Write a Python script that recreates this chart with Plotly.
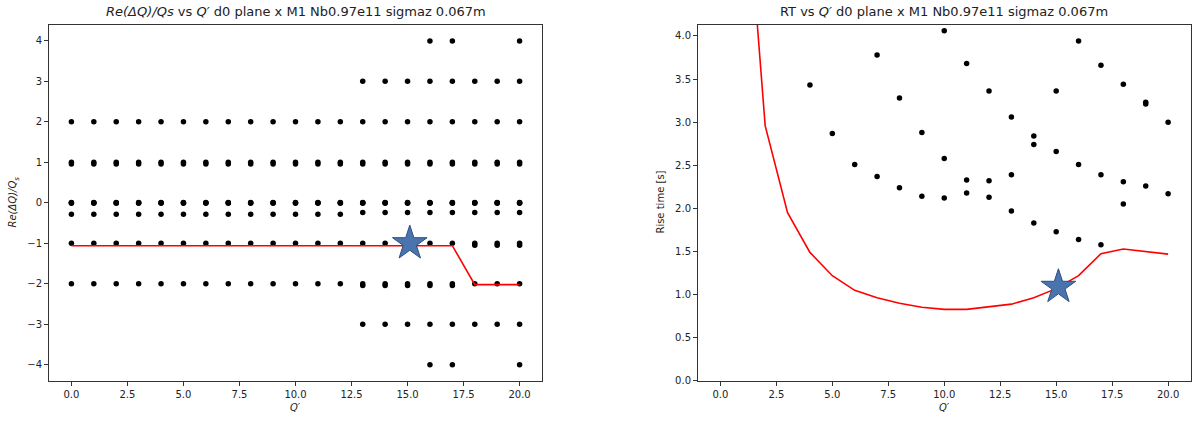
import plotly.graph_objects as go

# ---------------- data: left panel, Re(dQ)/Qs per mode level ----------------
qp_all = list(range(0, 21))
qp_high = list(range(13, 21))
qp_at_4 = [16, 17, 20]
qp_at_m4 = [16, 17, 20]
qp_at_m3 = list(range(13, 21))

lvl_4 = 4.0
lvl_3 = 3.0
lvl_2 = 2.0
lvl_1 = [1.0, 0.96]
lvl_0 = [0.01, 0.0, -0.01]
lvl_small_low = -0.28   # Q' 0..12
lvl_small_high = -0.24  # Q' 13..20
lvl_m1 = -1.0
lvl_m1_extra = -1.05    # Q' 18..20
qp_m1_extra = [18, 19, 20]
lvl_m2 = -2.0
lvl_m2_extra = -2.04    # Q' 13..17
qp_m2_extra = [13, 14, 15, 16, 17]
lvl_m3 = -3.0
lvl_m4 = -4.0

# most unstable mode (red line)
line_q = list(range(0, 21))
line_re = [-1.06] * 18 + [-2.02, -2.02, -2.02]

# ---------------- data: right panel, rise times ----------------
rt_q = [4, 5, 6, 7, 7, 8, 8, 9, 9, 10, 10, 10, 11, 11, 11, 12, 12, 12,
        13, 13, 13, 14, 14, 14, 15, 15, 15, 16, 16, 16, 17, 17, 17,
        18, 18, 18, 19, 19, 19, 20, 20]
rt_val = [3.43, 2.87, 2.51, 3.78, 2.37, 3.28, 2.24, 2.88, 2.14,
          4.06, 2.58, 2.12, 3.68, 2.33, 2.18, 3.36, 2.32, 2.13,
          3.06, 2.39, 1.97, 2.84, 2.74, 1.83, 3.36, 2.66, 1.73,
          3.94, 2.51, 1.64, 3.66, 2.39, 1.58, 3.44, 2.31, 2.05,
          3.23, 3.21, 2.26, 3.00, 2.17]

rt_line_q = list(range(1, 21))
rt_line = [6.3, 2.96, 1.95, 1.49, 1.22, 1.05, 0.965, 0.90, 0.855, 0.83,
           0.83, 0.86, 0.89, 0.965, 1.07, 1.22, 1.475, 1.53, 1.50, 1.47]

# chosen working point
star_q = 15.1
star_re = -1.0
star_rt = 1.09

title_suffix = " d0 plane x M1 Nb0.97e11 sigmaz 0.067m"

# ---------------- build left scatter points ----------------
lq, lv = [], []


def add(qs, v):
    for q in qs:
        lq.append(q)
        lv.append(v)


add(qp_at_4, lvl_4)
add(qp_high, lvl_3)
add(qp_all, lvl_2)
for v in lvl_1:
    add(qp_all, v)
for v in lvl_0:
    add(qp_all, v)
add([q for q in qp_all if q < 13], lvl_small_low)
add(qp_high, lvl_small_high)
add(qp_all, lvl_m1)
add(qp_m1_extra, lvl_m1_extra)
add(qp_all, lvl_m2)
add(qp_m2_extra, lvl_m2_extra)
add(qp_at_m3, lvl_m3)
add(qp_at_m4, lvl_m4)

W, H = 1192, 421
FONT = "DejaVu Sans"
TXT = "#222222"
FRAME = "#333333"
STAR_FILL = "#4a74ad"
STAR_EDGE = "#2d4f80"

fig = go.Figure()

# left panel
fig.add_trace(go.Scatter(x=lq, y=lv, mode="markers",
                         marker=dict(color="black", size=5.5),
                         xaxis="x", yaxis="y", showlegend=False))
fig.add_trace(go.Scatter(x=line_q, y=line_re, mode="lines",
                         line=dict(color="red", width=1.6),
                         xaxis="x", yaxis="y", showlegend=False))
fig.add_trace(go.Scatter(x=[star_q], y=[star_re], mode="markers",
                         marker=dict(symbol="star", size=26, color=STAR_FILL,
                                     line=dict(color=STAR_EDGE, width=1)),
                         xaxis="x", yaxis="y", showlegend=False))

# right panel
fig.add_trace(go.Scatter(x=rt_q, y=rt_val, mode="markers",
                         marker=dict(color="black", size=5.5),
                         xaxis="x2", yaxis="y2", showlegend=False))
fig.add_trace(go.Scatter(x=rt_line_q, y=rt_line, mode="lines",
                         line=dict(color="red", width=1.6),
                         xaxis="x2", yaxis="y2", showlegend=False))
fig.add_trace(go.Scatter(x=[star_q], y=[star_rt], mode="markers",
                         marker=dict(symbol="star", size=26, color=STAR_FILL,
                                     line=dict(color=STAR_EDGE, width=1)),
                         xaxis="x2", yaxis="y2", showlegend=False))


def px(x):
    return x / W


def py(y):
    return 1 - y / H


left_dom = [px(49), px(542)]
right_dom = [px(698), px(1190.5)]
y_dom = [py(385.5), py(25)]

axis_common = dict(showgrid=False, zeroline=False, showline=True, mirror=True,
                   linecolor=FRAME, linewidth=1, ticks="outside", ticklen=4,
                   tickcolor=FRAME, tickfont=dict(family=FONT, size=10, color=TXT))

xticks = [0, 2.5, 5, 7.5, 10, 12.5, 15, 17.5, 20]

fig.update_layout(
    width=W, height=H,
    margin=dict(l=0, r=0, t=0, b=0),
    paper_bgcolor="white", plot_bgcolor="white",
    font=dict(family=FONT, color=TXT),
    xaxis=dict(domain=left_dom, range=[-1, 21], tickvals=xticks,
               tickformat=".1f", anchor="y", **axis_common),
    yaxis=dict(domain=y_dom, range=[-4.4, 4.4], tickvals=list(range(-4, 5)),
               anchor="x", **axis_common),
    xaxis2=dict(domain=right_dom, range=[-1, 21], tickvals=xticks,
                tickformat=".1f", anchor="y2", **axis_common),
    yaxis2=dict(domain=y_dom, range=[0, 4.13],
                tickvals=[0, 0.5, 1, 1.5, 2, 2.5, 3, 3.5, 4],
                tickformat=".1f", anchor="x2", **axis_common),
)

ann = [
    dict(text="<i>Re(ΔQ)/Qs</i> vs <i>Q′</i>" + title_suffix,
         x=px(295.5), y=py(12), font=dict(size=13)),
    dict(text="RT vs <i>Q′</i>" + title_suffix,
         x=px(944), y=py(12), font=dict(size=13)),
    dict(text="<i>Q′</i>", x=px(295.5), y=py(412), font=dict(size=10)),
    dict(text="<i>Q′</i>", x=px(944), y=py(412), font=dict(size=10)),
    dict(text="<i>Re(ΔQ)/Q<sub>s</sub></i>", x=px(14), y=py(205),
         textangle=-90, font=dict(size=10)),
    dict(text="Rise time [s]", x=px(661), y=py(205),
         textangle=-90, font=dict(size=10)),
]
for a in ann:
    a.update(xref="paper", yref="paper", showarrow=False,
             xanchor="center", yanchor="middle")
    a["font"].update(family=FONT, color=TXT)
fig.update_layout(annotations=ann)

fig.write_html("out.html")
